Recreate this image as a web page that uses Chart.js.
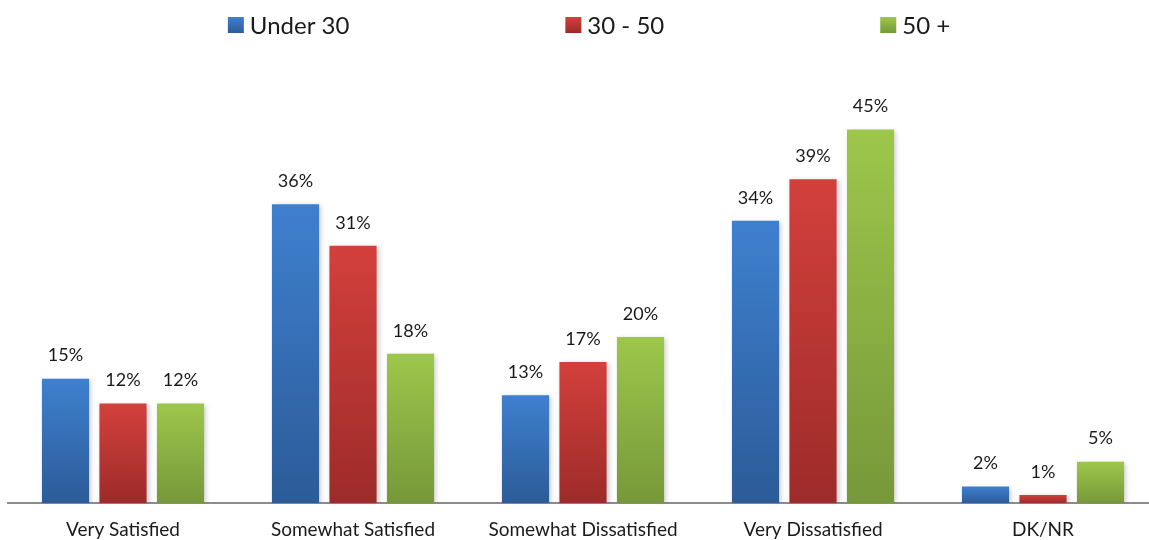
<!DOCTYPE html>
<html>
<head>
  <title>Satisfaction by Age Group</title>
  <script src="https://cdn.jsdelivr.net/npm/chart.js@4"></script>
  <style>
    body { margin: 0; background: #ffffff; overflow: hidden; }
  </style>
</head>
<body>
  <canvas id="myChart" width="1158" height="540"></canvas>
<script>

    // Categories and series values (percent)
    const categories = ['Very Satisfied', 'Somewhat Satisfied', 'Somewhat Dissatisfied', 'Very Dissatisfied', 'DK/NR'];
    const seriesNames = ['Under 30', '30 - 50', '50 +'];
    const under30 = [15, 36, 13, 34, 2];
    const age30to50 = [12, 31, 17, 39, 1];
    const over50 = [12, 18, 20, 45, 5];

    // top colour, bottom colour for each series
    const colours = [
      ['#3e80cf', '#2c5b98'],
      ['#d3403c', '#9d2b29'],
      ['#9dc74b', '#77983a']
    ];

    const FONT = 'Lato, "Open Sans", sans-serif';

    // Gradient per bar, from its top down to the base
    function barGradient(i) {
      return function (ctx) {
        const chart = ctx.chart;
        const y = chart.scales.y;
        if (!y || !ctx.parsed || ctx.parsed.y === undefined) return colours[i][0];
        const top = y.getPixelForValue(ctx.parsed.y);
        const base = y.getPixelForValue(0);
        if (!isFinite(top) || !isFinite(base) || top === base) return colours[i][0];
        const g = chart.ctx.createLinearGradient(0, top, 0, base);
        g.addColorStop(0, colours[i][0]);
        g.addColorStop(1, colours[i][1]);
        return g;
      };
    }

    // Percent labels above the bars
    const valueLabels = {
      id: 'valueLabels',
      afterDatasetsDraw(chart) {
        const ctx = chart.ctx;
        ctx.save();
        ctx.font = '18px ' + FONT;
        ctx.fillStyle = '#1a1a1a';
        ctx.textAlign = 'center';
        ctx.textBaseline = 'middle';
        chart.data.datasets.forEach((ds, i) => {
          chart.getDatasetMeta(i).data.forEach((bar, j) => {
            ctx.fillText(ds.data[j] + '%', bar.x, bar.y - 23);
          });
        });
        ctx.restore();
      }
    };

    // Soft shadow behind bars
    const barShadow = {
      id: 'barShadow',
      beforeDatasetsDraw(chart) {
        const ctx = chart.ctx;
        ctx.save();
        ctx.shadowColor = 'rgba(0,0,0,0.22)';
        ctx.shadowBlur = 5;
        ctx.shadowOffsetX = 2;
        ctx.shadowOffsetY = 1;
      },
      afterDatasetsDraw(chart) {
        chart.ctx.restore();
      }
    };

    // Wide spaced legend along the top
    const topLegend = {
      id: 'topLegend',
      afterDraw(chart) {
        const ctx = chart.ctx;
        const box = 16, gap = 6, spacing = 216;
        ctx.save();
        ctx.font = '24px ' + FONT;
        ctx.textBaseline = 'middle';
        ctx.textAlign = 'left';
        const widths = seriesNames.map(n => box + gap + ctx.measureText(n).width);
        const total = widths.reduce((a, b) => a + b, 0) + spacing * (widths.length - 1);
        const area = chart.chartArea;
        let x = (area.left + area.right) / 2 + 6 - total / 2;
        const yMid = 25;
        seriesNames.forEach((name, i) => {
          const g = ctx.createLinearGradient(0, yMid - box / 2, 0, yMid + box / 2);
          g.addColorStop(0, colours[i][0]);
          g.addColorStop(1, colours[i][1]);
          ctx.fillStyle = g;
          ctx.fillRect(x, yMid - box / 2, box, box);
          ctx.fillStyle = '#1a1a1a';
          ctx.fillText(name, x + box + gap, yMid + 1);
          x += widths[i] + spacing;
        });
        ctx.restore();
      }
    };

    const seriesData = [under30, age30to50, over50];

    new Chart(document.getElementById('myChart'), {
      type: 'bar',
      data: {
        labels: categories,
        datasets: seriesNames.map((name, i) => ({
          label: name,
          data: seriesData[i],
          backgroundColor: barGradient(i),
          borderWidth: 0,
          categoryPercentage: 0.75,
          barPercentage: 0.82
        }))
      },
      options: {
        responsive: false,
        animation: false,
        layout: { padding: { top: 88, left: 8, right: 0, bottom: -16 } },
        plugins: {
          legend: { display: false },
          tooltip: { enabled: false }
        },
        scales: {
          x: {
            grid: { display: false, drawTicks: false },
            border: { display: true, color: '#8c8c8c', width: 2 },
            ticks: { color: '#1a1a1a', font: { family: FONT, size: 19 }, padding: 15 }
          },
          y: {
            display: false,
            min: 0,
            max: 50
          }
        }
      },
      plugins: [barShadow, valueLabels, topLegend]
    });
  </script>
</body>
</html>
